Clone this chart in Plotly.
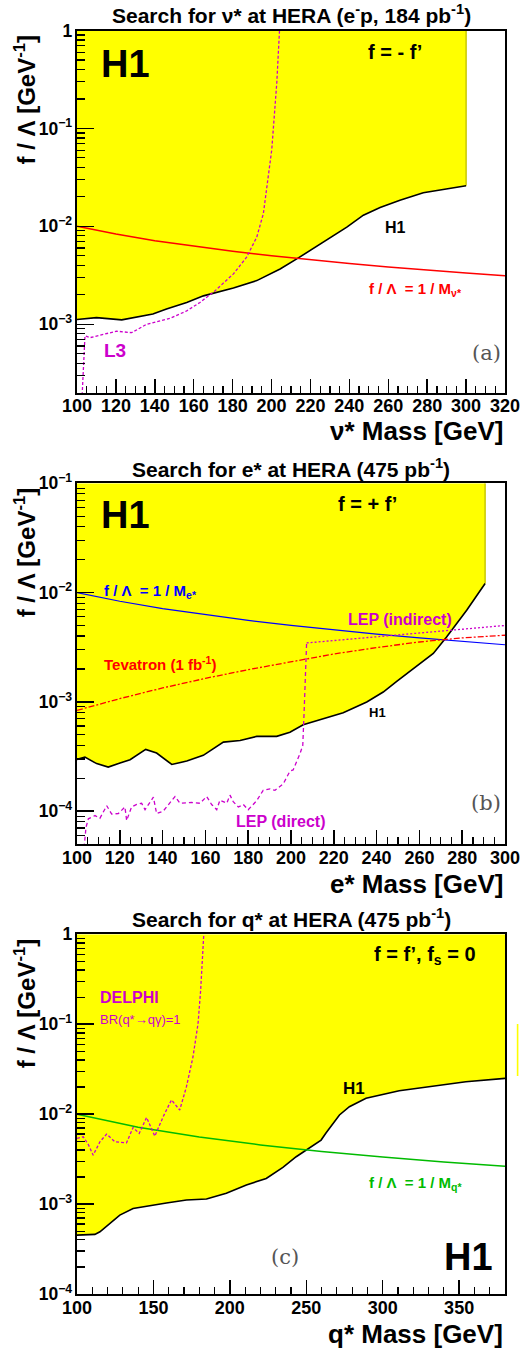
import plotly.graph_objects as go

W, H = 522, 1351

# ---------------- Panel (a): nu* ----------------
nu_h1_mass = [100, 110, 123, 129, 139, 146, 156.4, 165, 171.8, 180.4, 192.4, 204.4,
              213.8, 225, 238.7, 247.2, 255.8, 266, 278, 300]
nu_h1_lim = [1.12e-3, 1.17e-3, 1.11e-3, 1.17e-3, 1.27e-3, 1.43e-3, 1.67e-3, 1.95e-3,
             2.11e-3, 2.34e-3, 2.79e-3, 3.67e-3, 4.76e-3, 6.64e-3, 9.8e-3, 1.30e-2,
             1.56e-2, 1.85e-2, 2.20e-2, 2.60e-2]
nu_l3_mass = [102.4, 104.1, 106.7, 120.4, 128.1, 135.8, 147.8, 156.4, 163.2, 171,
              180.4, 187.2, 192.4, 195.8, 200.1, 202.7, 204.3]
nu_l3_lim = [1.5e-4, 7.6e-4, 7.3e-4, 8.5e-4, 8.2e-4, 1.0e-3, 1.15e-3, 1.37e-3, 1.67e-3,
             2.2e-3, 3.27e-3, 4.84e-3, 7.76e-3, 1.35e-2, 6.04e-2, 2.93e-1, 1.2]
nu_curve_mass = [100, 120, 140, 160, 180, 200, 220, 240, 260, 280, 300, 320]
nu_curve_val = [1.0e-2, 8.33e-3, 7.14e-3, 6.25e-3, 5.56e-3, 5.0e-3, 4.55e-3, 4.17e-3,
                3.85e-3, 3.57e-3, 3.33e-3, 3.13e-3]

# ---------------- Panel (b): e* ----------------
e_h1_mass = [100, 103.7, 109.2, 114.6, 120.1, 124.8, 132.1, 137.2, 144.3, 151.3, 159,
             168.4, 176.2, 184, 193.3, 199.5, 205.7, 213.6, 224.4, 235.4, 243.1, 249.4,
             258, 266.5, 272.7, 282.1, 290.7]
e_h1_lim = [2.97e-4, 3.12e-4, 2.72e-4, 2.53e-4, 2.75e-4, 2.95e-4, 3.67e-4, 3.40e-4,
            2.67e-4, 2.87e-4, 3.24e-4, 4.28e-4, 4.43e-4, 4.83e-4, 4.83e-4, 5.28e-4,
            6.18e-4, 6.87e-4, 7.96e-4, 9.96e-4, 1.23e-3, 1.54e-3, 2.09e-3, 2.77e-3,
            3.93e-3, 6.9e-3, 1.21e-2]
e_curve_mass = [100, 120, 140, 160, 180, 200, 220, 240, 260, 280, 300]
e_curve_val = [1.0e-2, 8.33e-3, 7.14e-3, 6.25e-3, 5.56e-3, 5.0e-3, 4.55e-3, 4.17e-3,
               3.85e-3, 3.57e-3, 3.33e-3]
e_lepdir_mass = [103, 104.2, 105.3, 108.4, 110.7, 113.9, 116.2, 119.3, 122.4, 123.2,
                 125.5, 127.9, 130.2, 131.8, 135.7, 137.2, 140.3, 145.8, 148.1, 153.6,
                 157.5, 159, 160.6, 162.9, 165.3, 166.8, 170, 171.5, 173, 175.4, 177.7,
                 180, 183.9, 187, 190.2, 192.5, 196.4, 199.5, 201, 204.2, 205.5, 206.1,
                 207.3]
e_lepdir_lim = [4.0e-5, 7.1e-5, 8.5e-5, 9.1e-5, 8.6e-5, 1.12e-4, 9.4e-5, 9.5e-5, 1.09e-4,
                8.2e-5, 1.09e-4, 1.15e-4, 1.18e-4, 1.03e-4, 1.34e-4, 9.5e-5, 1.0e-4,
                1.36e-4, 1.18e-4, 1.2e-4, 1.18e-4, 1.26e-4, 1.36e-4, 1.15e-4, 1.03e-4,
                1.26e-4, 1.18e-4, 1.40e-4, 1.22e-4, 1.09e-4, 1.15e-4, 1.03e-4, 1.24e-4,
                1.55e-4, 1.60e-4, 1.55e-4, 1.78e-4, 2.32e-4, 2.38e-4, 3.35e-4, 3.99e-4,
                7.8e-4, 3.46e-3]
e_lepind_mass = [207.3, 250, 300]
e_lepind_lim = [3.46e-3, 4.1e-3, 5.0e-3]
e_tev_mass = [100, 120, 140, 160, 180, 200, 220, 240, 260, 280, 300]
e_tev_lim = [8.36e-4, 1.07e-3, 1.34e-3, 1.64e-3, 1.97e-3, 2.34e-3, 2.74e-3, 3.14e-3,
             3.53e-3, 3.85e-3, 4.07e-3]

# ---------------- Panel (c): q* ----------------
q_h1_mass = [100, 111.7, 115, 121.5, 128, 136.7, 145.5, 158.5, 171.6, 184.7, 197.7,
             210.8, 223.8, 234.7, 243.4, 252.1, 259.7, 263, 267.3, 271.7, 278.2, 289.1,
             310.8, 332.6, 354.4, 380]
q_h1_lim = [4.52e-4, 4.6e-4, 4.92e-4, 6.1e-4, 7.55e-4, 8.95e-4, 9.5e-4, 1.03e-3, 1.11e-3,
            1.14e-3, 1.32e-3, 1.63e-3, 1.93e-3, 2.56e-3, 3.36e-3, 4.17e-3, 5.15e-3,
            6.2e-3, 7.9e-3, 9.8e-3, 1.21e-2, 1.5e-2, 1.82e-2, 2.05e-2, 2.29e-2, 2.5e-2]
q_curve_mass = [100, 140, 180, 220, 260, 300, 340, 380]
q_curve_val = [1.0e-2, 7.14e-3, 5.56e-3, 4.55e-3, 3.85e-3, 3.33e-3, 2.94e-3, 2.63e-3]
q_delphi_mass = [100, 104.1, 107.4, 110.6, 115, 119.4, 124.8, 132.4, 136.7, 140.7,
                 145.5, 150.9, 156.3, 161.8, 167.2, 171.6, 175.9, 179.2, 180.9, 182,
                 183.2]
q_delphi_lim = [5.38e-3, 5.6e-3, 4.6e-3, 3.5e-3, 4.93e-3, 6.0e-3, 4.93e-3, 4.8e-3,
                7.1e-3, 6.1e-3, 9.2e-3, 5.7e-3, 9.3e-3, 1.44e-2, 1.11e-2, 2.02e-2,
                4.35e-2, 1.02e-1, 2.4e-1, 5.6e-1, 1.2]

YELLOW = "#FFFF00"
EDGE = "#C8C800"
MAG = "#CC00CC"
FONT = "Liberation Sans, Arial, sans-serif"
SERIF = "DejaVu Serif, Liberation Serif, serif"


def px(x):
    return x / W


def py(y):
    return 1 - y / H


fig = go.Figure()


def ax_names(n):
    return ("x", "y") if n == 1 else (f"x{n}", f"y{n}")


def add_excl(mass, lim, x0, top, xedge, axis_n, edge=True):
    xa, ya = ax_names(axis_n)
    fig.add_trace(go.Scatter(x=list(mass) + [xedge, x0], y=list(lim) + [top, top],
                             fill="toself", fillcolor=YELLOW, mode="lines",
                             line=dict(width=0, color=YELLOW), xaxis=xa, yaxis=ya,
                             hoverinfo="skip", showlegend=False))
    if edge:
        fig.add_trace(go.Scatter(x=[xedge, xedge], y=[lim[-1], top], mode="lines",
                                 line=dict(color=EDGE, width=1.5), xaxis=xa, yaxis=ya,
                                 showlegend=False))
    fig.add_trace(go.Scatter(x=mass, y=lim, mode="lines",
                             line=dict(color="black", width=1.6), xaxis=xa, yaxis=ya,
                             showlegend=False))


def add_line(mass, vals, color, axis_n, dash="solid", width=1.5):
    xa, ya = ax_names(axis_n)
    fig.add_trace(go.Scatter(x=mass, y=vals, mode="lines",
                             line=dict(color=color, width=width, dash=dash),
                             xaxis=xa, yaxis=ya, showlegend=False))


# panel a
add_excl(nu_h1_mass, nu_h1_lim, 100, 1.0, 300, 1)
add_line(nu_curve_mass, nu_curve_val, "#FF0000", 1, width=1.5)
add_line(nu_l3_mass, nu_l3_lim, MAG, 1, dash="3px,2px", width=1.3)

# panel b
add_excl(e_h1_mass, e_h1_lim, 100, 0.1, 290.7, 2)
add_line(e_curve_mass, e_curve_val, "#0000FF", 2, width=1.2)
add_line(e_tev_mass, e_tev_lim, "#FF0000", 2, dash="6px,2px,2px,2px", width=1.3)
add_line(e_lepind_mass, e_lepind_lim, MAG, 2, dash="2px,2px", width=1.3)
add_line(e_lepdir_mass, e_lepdir_lim, MAG, 2, dash="4px,3px", width=1.3)

# panel c
add_excl(q_h1_mass, q_h1_lim, 100, 1.0, 380, 3, edge=False)
add_line(q_curve_mass, q_curve_val, "#00BB00", 3, width=1.5)
add_line(q_delphi_mass, q_delphi_lim, MAG, 3, dash="3px,2px", width=1.3)

# axes geometry (pixels)
XL, XR = 77, 505
panels = [
    dict(top=30.5, bot=392.7, xr=[100, 320], yr=[-3.699, 0], dtick=20, minor=5),
    dict(top=483.3, bot=844.0, xr=[100, 300], yr=[-4.301, -1], dtick=20, minor=5),
    dict(top=934.3, bot=1294.0, xr=[100, 380], yr=[-4, 0], dtick=50, minor=10),
]

tickfont = dict(family=FONT, size=18, color="black", weight="bold")
ytickfont = dict(family=FONT, size=14, color="black", weight="bold")

layout_axes = {}
for i, p in enumerate(panels, start=1):
    xa, ya = ax_names(i)
    xk = "xaxis" if i == 1 else f"xaxis{i}"
    yk = "yaxis" if i == 1 else f"yaxis{i}"
    layout_axes[xk] = dict(
        domain=[px(XL), px(XR)], anchor=ya, range=p["xr"], dtick=p["dtick"], tick0=0,
        ticks="inside", ticklen=14, tickwidth=1.5, tickcolor="black",
        minor=dict(dtick=p["minor"], ticks="inside", ticklen=7, tickwidth=1.2,
                   tickcolor="black", showgrid=False),
        showline=True, linecolor="black", linewidth=2, mirror=True, automargin=False,
        showgrid=False, zeroline=False, tickfont=tickfont, ticklabelstandoff=-4,
    )
    layout_axes[yk] = dict(
        domain=[py(p["bot"]), py(p["top"])], anchor=xa, type="log", range=p["yr"],
        dtick=1, exponentformat="power", automargin=False,
        ticks="inside", ticklen=17, tickwidth=1.5, tickcolor="black",
        minor=dict(dtick="D1", ticks="inside", ticklen=8, tickwidth=1.2,
                   tickcolor="black", showgrid=False),
        showline=True, linecolor="black", linewidth=2, mirror=True,
        showgrid=False, zeroline=False, tickfont=ytickfont, ticklabelstandoff=0,
    )

ann = []


def txt(text, x, y, size, color="black", xanchor="center", yanchor="middle",
        family=FONT, bold=True, angle=0):
    ann.append(dict(text=text, x=px(x), y=py(y), xref="paper", yref="paper",
                    xanchor=xanchor, yanchor=yanchor, showarrow=False, textangle=angle,
                    font=dict(family=family, size=size, color=color,
                              weight="bold" if bold else "normal")))


# titles
txt("Search for ν* at HERA (e<sup>-</sup>p, 184 pb<sup>-1</sup>)", 291, 14, 21)
txt("Search for e* at HERA (475 pb<sup>-1</sup>)", 291, 468, 21)
txt("Search for q* at HERA (475 pb<sup>-1</sup>)", 291, 918, 21)

# y-axis titles
for p in panels:
    txt("f / Λ [GeV<sup>-1</sup>]", 25, p["top"] + 69, 24, angle=-90)

# x-axis titles
txt("ν* Mass [GeV]", 505, 431, 26, xanchor="right")
txt("e* Mass [GeV]", 505, 884, 26, xanchor="right")
txt("q* Mass [GeV]", 505, 1334, 26, xanchor="right")

# panel a labels
txt("H1", 125, 64, 38)
txt("f = - f’", 395, 52, 20)
txt("H1", 395, 227, 16)
txt("f / Λ  = 1 / M<sub>ν*</sub>", 367, 289, 15, color="#FF0000", xanchor="left")
txt("L3", 115, 350, 19, color=MAG)
txt("(a)", 486, 353, 21, color="#555555", family=SERIF, bold=False)

# panel b labels
txt("H1", 125, 515, 38)
txt("f = + f’", 367, 504, 20)
txt("f / Λ  = 1 / M<sub>e*</sub>", 102, 591, 15, color="#0000FF", xanchor="left")
txt("LEP (indirect)", 400, 620, 16, color=MAG)
txt("Tevatron (1 fb<sup>-1</sup>)", 102, 663, 15, color="#FF0000", xanchor="left")
txt("H1", 377, 712, 13)
txt("LEP (direct)", 281, 822, 16, color=MAG)
txt("(b)", 486, 803, 21, color="#555555", family=SERIF, bold=False)

# panel c labels
txt("f = f’, f<sub>s</sub> = 0", 425, 956, 20)
txt("DELPHI", 98, 997, 16, color=MAG, xanchor="left")
txt("BR(q*→qγ)=1", 98, 1019, 13, color=MAG, xanchor="left", bold=False)
txt("H1", 354, 1088, 17)
txt("f / Λ  = 1 / M<sub>q*</sub>", 367, 1183, 15, color="#00BB00", xanchor="left")
txt("(c)", 285, 1257, 21, color="#555555", family=SERIF, bold=False)
txt("H1", 468, 1257, 38)

shapes = [dict(type="rect", xref="paper", yref="paper", x0=px(516.8), x1=px(518.4),
               y0=py(1076), y1=py(1024), fillcolor=YELLOW, line=dict(width=0))]

fig.update_layout(
    width=W, height=H, margin=dict(l=0, r=0, t=0, b=0, pad=0, autoexpand=False),
    paper_bgcolor="white", plot_bgcolor="white",
    showlegend=False, annotations=ann, shapes=shapes,
    font=dict(family=FONT), **layout_axes,
)

fig.write_html("out.html", config={"displayModeBar": False, "staticPlot": True},
               post_script="document.body.style.margin='0';"
                           "document.body.style.overflow='hidden';")
